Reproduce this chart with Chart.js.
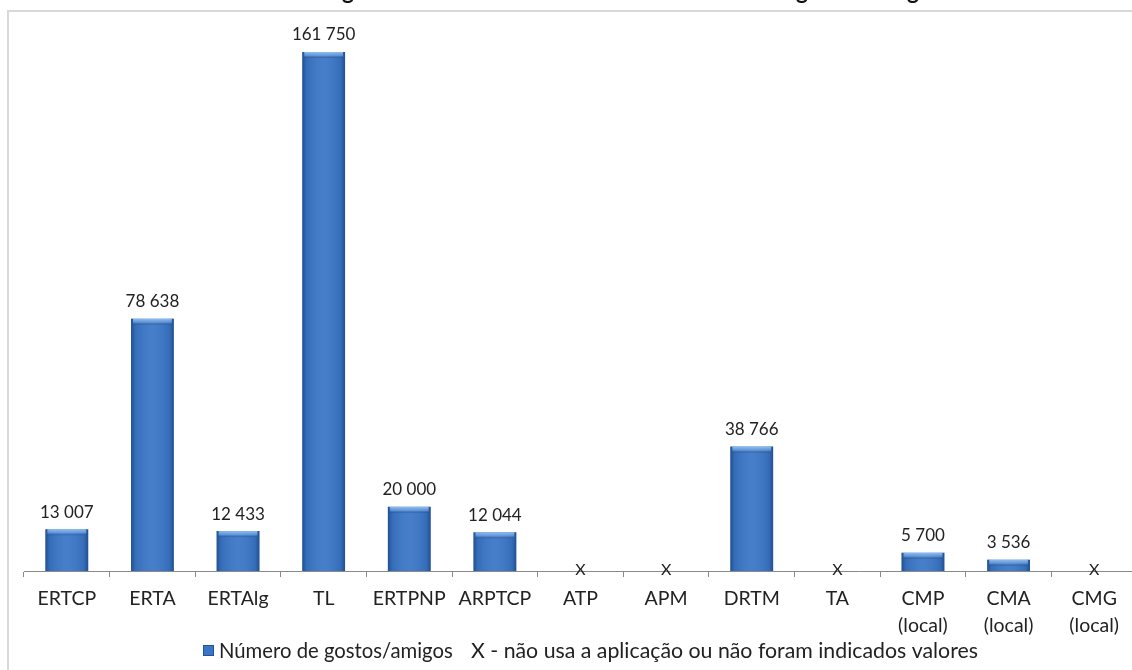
<!DOCTYPE html>
<html>
<head>
<meta charset="utf-8">
<script src="https://cdn.jsdelivr.net/npm/chart.js@4/dist/chart.umd.min.js"></script>
<style>
  html, body { margin: 0; padding: 0; background: #fff; overflow: hidden; width: 1132px; height: 670px; }
  #wrap { position: relative; width: 1140px; height: 670px; }
</style>
</head>
<body>
<div id="wrap"><canvas id="chart" width="1140" height="670"></canvas></div>
<script>
// Entities shown on the category axis (two-line labels for local councils)
const categories = [
  ['ERTCP'], ['ERTA'], ['ERTAlg'], ['TL'], ['ERTPNP'], ['ARPTCP'],
  ['ATP'], ['APM'], ['DRTM'], ['TA'],
  ['CMP', '(local)'], ['CMA', '(local)'], ['CMG', '(local)']
];
// Likes / friends per page; null = page not used or no value given (marked "x")
const likes = [13007, 78638, 12433, 161750, 20000, 12044, null, null, 38766, null, 5700, 3536, null];
const seriesName = 'Número de gostos/amigos';
const noteText = 'X - não usa a aplicação ou não foram indicados valores';
const titleText = 'Gráfico 3 - Página das entidades no Facebook - Número de gostos/amigos';
const yMax = 170000;

const FONT = 'Lato, "Open Sans", sans-serif';
const BAR_BLUE = '#3b76c6';

function fmt(n) {
  return String(n).replace(/\B(?=(\d{3})+(?!\d))/g, ' ');
}

// Frame, clipped title, bar bevels, value labels, "x" markers and legend
const decor = {
  id: 'decor',
  beforeDraw(chart) {
    const ctx = chart.ctx;
    ctx.save();
    ctx.fillStyle = '#fff';
    ctx.fillRect(0, 0, chart.width, chart.height);
    ctx.strokeStyle = '#d9d9d9';
    ctx.lineWidth = 2;
    ctx.strokeRect(8, 11, 3000, 3000);
    // title sits above the frame, mostly cut off by the top edge
    ctx.fillStyle = '#111';
    ctx.font = 'bold 22.5px ' + FONT;
    ctx.textAlign = 'center';
    ctx.textBaseline = 'alphabetic';
    ctx.fillText(titleText, 574, -1);
    ctx.restore();
  },
  afterDatasetsDraw(chart) {
    const ctx = chart.ctx;
    const meta = chart.getDatasetMeta(0);
    const base = chart.scales.y.getPixelForValue(0);
    ctx.save();
    meta.data.forEach((bar, i) => {
      const v = likes[i];
      if (v === null || v === undefined) {
        ctx.fillStyle = '#222';
        ctx.font = '16px ' + FONT;
        ctx.textAlign = 'center';
        ctx.textBaseline = 'alphabetic';
        ctx.fillText('X', bar.x, base + 4);
        return;
      }
      const w = bar.width;
      const x0 = bar.x - w / 2;
      const y0 = bar.y;
      const h = base - y0;
      // side shading
      const g = ctx.createLinearGradient(x0, 0, x0 + w, 0);
      g.addColorStop(0, 'rgba(10,40,90,0.5)');
      g.addColorStop(0.1, 'rgba(10,40,90,0.12)');
      g.addColorStop(0.5, 'rgba(255,255,255,0.06)');
      g.addColorStop(0.9, 'rgba(10,40,90,0.12)');
      g.addColorStop(1, 'rgba(10,40,90,0.5)');
      ctx.fillStyle = g;
      ctx.fillRect(x0, y0, w, h);
      // top bevel
      const tg = ctx.createLinearGradient(0, y0, 0, y0 + 6);
      tg.addColorStop(0, 'rgba(150,195,245,0.95)');
      tg.addColorStop(0.6, 'rgba(120,170,230,0.6)');
      tg.addColorStop(1, 'rgba(20,60,120,0.35)');
      ctx.fillStyle = tg;
      ctx.fillRect(x0 + 2, y0, w - 4, Math.min(6, h));
      // value label
      ctx.fillStyle = '#222';
      ctx.font = '17px ' + FONT;
      ctx.textAlign = 'center';
      ctx.textBaseline = 'middle';
      ctx.fillText(fmt(v), bar.x, y0 - 17);
    });
    ctx.restore();
  },
  afterDraw(chart) {
    const ctx = chart.ctx;
    ctx.save();
    const ly = 651;
    ctx.fillStyle = BAR_BLUE;
    ctx.fillRect(203, ly - 6, 11, 11);
    ctx.strokeStyle = 'rgba(20,60,120,0.6)';
    ctx.lineWidth = 1;
    ctx.strokeRect(203.5, ly - 5.5, 10, 10);
    ctx.fillStyle = '#222';
    ctx.textAlign = 'left';
    ctx.textBaseline = 'middle';
    ctx.font = '20.3px ' + FONT;
    ctx.fillText(seriesName, 219, ly);
    ctx.font = '21.3px ' + FONT;
    ctx.fillText(noteText, 471, ly);
    ctx.restore();
  }
};

new Chart(document.getElementById('chart'), {
  type: 'bar',
  data: {
    labels: categories,
    datasets: [{
      label: seriesName,
      data: likes,
      backgroundColor: BAR_BLUE,
      borderWidth: 0,
      barPercentage: 0.5,
      categoryPercentage: 1
    }]
  },
  options: {
    responsive: false,
    devicePixelRatio: 1,
    animation: false,
    layout: { padding: { left: 24, right: 3, top: 25.5, bottom: 0 } },
    plugins: {
      legend: { display: false },
      title: { display: false },
      tooltip: { enabled: false }
    },
    scales: {
      x: {
        grid: {
          display: true,
          drawOnChartArea: false,
          drawTicks: true,
          tickLength: 6,
          color: '#8a8a8a',
          offset: true
        },
        border: { display: true, color: '#8a8a8a', width: 1 },
        ticks: {
          color: '#222',
          font: { family: FONT, size: 19.5, lineHeight: 1.4 },
          padding: 8,
          maxRotation: 0,
          autoSkip: false
        },
        afterFit(scale) { scale.height = 99; }
      },
      y: { display: false, min: 0, max: yMax }
    }
  },
  plugins: [decor]
});
</script>
</body>
</html>
